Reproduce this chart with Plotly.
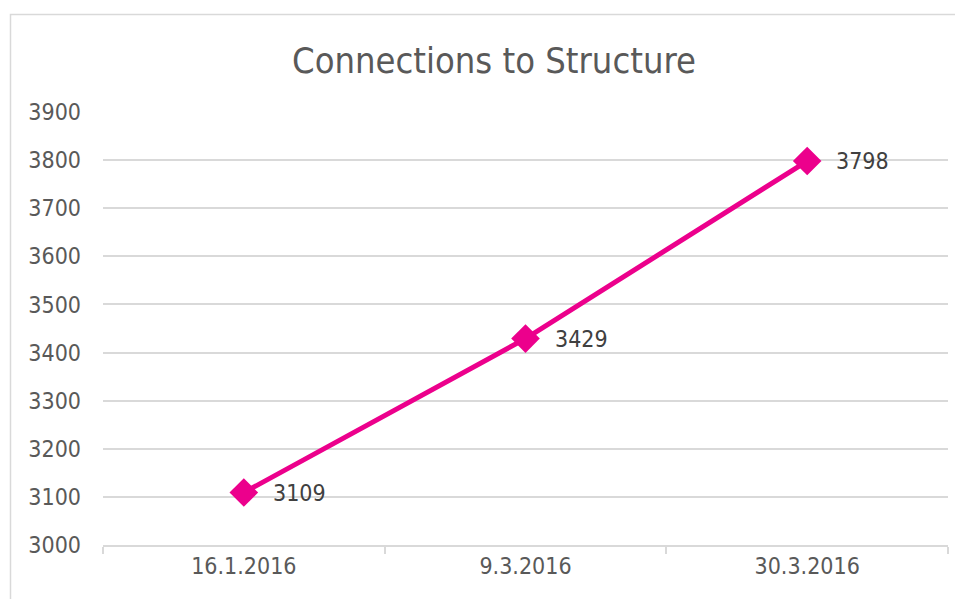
import plotly.graph_objects as go

categories = ["16.1.2016", "9.3.2016", "30.3.2016"]
values = [3109, 3429, 3798]
y_ticks = [3000, 3100, 3200, 3300, 3400, 3500, 3600, 3700, 3800, 3900]

FONT = "DejaVu Sans Condensed, DejaVu Sans, sans-serif"
GRID = "#D9D9D9"

# page has an 8px body margin; figure coordinates are offset accordingly
W, H = 955, 591
L, T = 95, 104
PW, PH = 845, 433

fig = go.Figure()
fig.add_trace(go.Scatter(
    x=categories, y=values, mode="lines+markers",
    line=dict(color="#EC008C", width=5),
    marker=dict(symbol="diamond", size=22, color="#EC008C"),
    showlegend=False, hoverinfo="x+y",
))
for c, v in zip(categories, values):
    fig.add_annotation(x=c, y=v, text=str(v), showarrow=False, xanchor="left",
                       yanchor="middle", xshift=27,
                       font=dict(family=FONT, size=23, color="#404040"))

fig.add_shape(type="rect", xref="paper", yref="paper",
              x0=(2.5 - L) / PW, x1=1.1, y0=-0.3, y1=(PH + T - 6.5) / PH,
              line=dict(color=GRID, width=1.5), fillcolor="rgba(0,0,0,0)", layer="below")

fig.update_layout(
    width=W, height=H,
    margin=dict(l=L, r=W - L - PW, t=T, b=H - T - PH),
    paper_bgcolor="white", plot_bgcolor="white",
    title=dict(text="Connections to Structure", x=486 / W, xanchor="center",
               y=1 - 52 / H, yanchor="middle",
               font=dict(family=FONT, size=36, color="#595959")),
    font=dict(family=FONT, size=23, color="#595959"),
    xaxis=dict(type="category", range=[-0.5, 2.5], showgrid=False, showline=True,
               linecolor=GRID, linewidth=1.5, ticks="outside", tickson="boundaries",
               ticklen=7, tickcolor=GRID, tickwidth=1.5,
               tickfont=dict(family=FONT, size=23, color="#595959"), zeroline=False),
    yaxis=dict(range=[3000, 3900], tickvals=y_ticks, showgrid=True, gridcolor=GRID,
               gridwidth=1.5, zeroline=False, showline=False, ticks="",
               ticklabelstandoff=21,
               tickfont=dict(family=FONT, size=23, color="#595959")),
)

fig.write_html("out.html")
